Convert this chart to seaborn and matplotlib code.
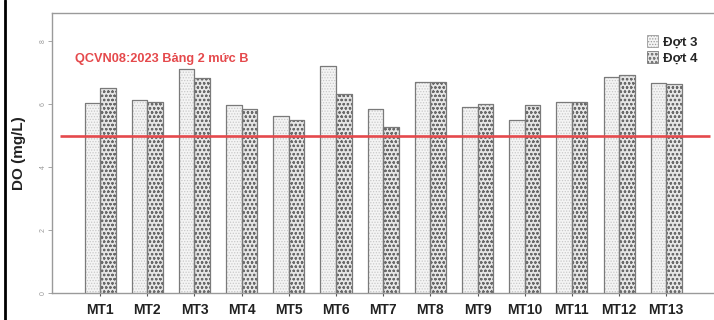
import matplotlib
matplotlib.use("Agg")
import matplotlib.pyplot as plt
import seaborn as sns
import pandas as pd
from matplotlib.patches import Patch
from matplotlib.lines import Line2D

sites = ["MT1", "MT2", "MT3", "MT4", "MT5", "MT6", "MT7", "MT8", "MT9", "MT10", "MT11", "MT12", "MT13"]
dot3 = [6.03, 6.13, 7.11, 5.97, 5.62, 7.21, 5.86, 6.69, 5.92, 5.51, 6.06, 6.87, 6.66]
dot4 = [6.51, 6.06, 6.83, 5.84, 5.49, 6.32, 5.26, 6.69, 6.00, 5.96, 6.06, 6.94, 6.65]
series = ["Đợt 3", "Đợt 4"]
limit_value = 5.0
limit_label = "QCVN08:2023 Bảng 2 mức B"
y_ticks = [0, 2, 4, 6, 8]

df = pd.DataFrame({
    "site": sites * 2,
    "DO": dot3 + dot4,
    "dot": [series[0]] * len(sites) + [series[1]] * len(sites),
})

sns.set_theme(style="white")
plt.rcParams["font.family"] = ["Liberation Sans", "DejaVu Sans"]
plt.rcParams["hatch.linewidth"] = 0.6

fig = plt.figure(figsize=(7.14, 3.2), dpi=100)
ax = fig.add_axes([0.0728, 0.084, 0.9258, 0.875])

sns.barplot(data=df, x="site", y="DO", hue="dot", order=sites, hue_order=series,
            width=0.66, ax=ax, legend=False, errorbar=None)

styles = [
    dict(facecolor="#f4f4f4", hatch="......", hatch_color="#c8c8c8"),
    dict(facecolor="#e6e6e6", hatch="oooo", hatch_color="#6a6a6a"),
]
for cont, st in zip(ax.containers, styles):
    for bar in cont:
        bar.set_facecolor(st["facecolor"])
        bar.set_hatch(st["hatch"])
        bar.set_edgecolor(st["hatch_color"])
        bar.set_linewidth(0.0)
    # outline drawn separately so the border stays mid-grey
    for bar in cont:
        x, y = bar.get_xy()
        w, h = bar.get_width(), bar.get_height()
        ax.plot([x, x, x + w, x + w], [0, h, h, 0], color="#7a7a7a", lw=0.9, zorder=3)

# reference level
ax.hlines(limit_value, -0.85, 12.92, color="#e5494c", lw=1.9, zorder=4)
ax.text(-0.53, 7.43, limit_label, color="#e5494c", fontsize=9.2, fontweight="bold",
        ha="left", va="center")

ax.set_xlim(-1.02, 12.99)
ax.set_ylim(0, 8.89)
ax.set_yticks(y_ticks)
ax.set_yticklabels([str(t) for t in y_ticks], fontsize=5, color="#999999", rotation=90, va="center")
ax.tick_params(axis="y", length=3, color="#999999", width=0.6, pad=1, left=True)
ax.tick_params(axis="x", length=4, color="#555555", width=0.8, pad=5, bottom=True, direction="inout")
ax.set_xticks(range(len(sites)))
ax.set_xticklabels(sites, fontsize=10, fontweight="bold", color="#222222")
ax.set_xlabel("")
ax.set_ylabel("DO (mg/L)", fontsize=11, fontweight="bold", color="#222222", labelpad=10)

for side in ["left", "top", "bottom"]:
    ax.spines[side].set_color("#9a9a9a")
    ax.spines[side].set_linewidth(1.0)
ax.spines["right"].set_visible(False)

handles = [
    Patch(facecolor=styles[0]["facecolor"], hatch=styles[0]["hatch"], edgecolor="#9a9a9a", lw=0.6),
    Patch(facecolor=styles[1]["facecolor"], hatch=styles[1]["hatch"], edgecolor="#7a7a7a", lw=0.6),
]
leg = ax.legend(handles, series, loc="upper right", bbox_to_anchor=(0.985, 0.94), frameon=False,
                prop={"weight": "bold", "size": 9.5}, handlelength=0.8, handleheight=1.0,
                handletextpad=0.4, labelspacing=0.2, borderaxespad=0)

# black rule along the left edge of the figure
fig.add_artist(Line2D([0.0077, 0.0077], [0, 1], transform=fig.transFigure, color="black", lw=2))

fig.savefig("out.png", dpi=100)
